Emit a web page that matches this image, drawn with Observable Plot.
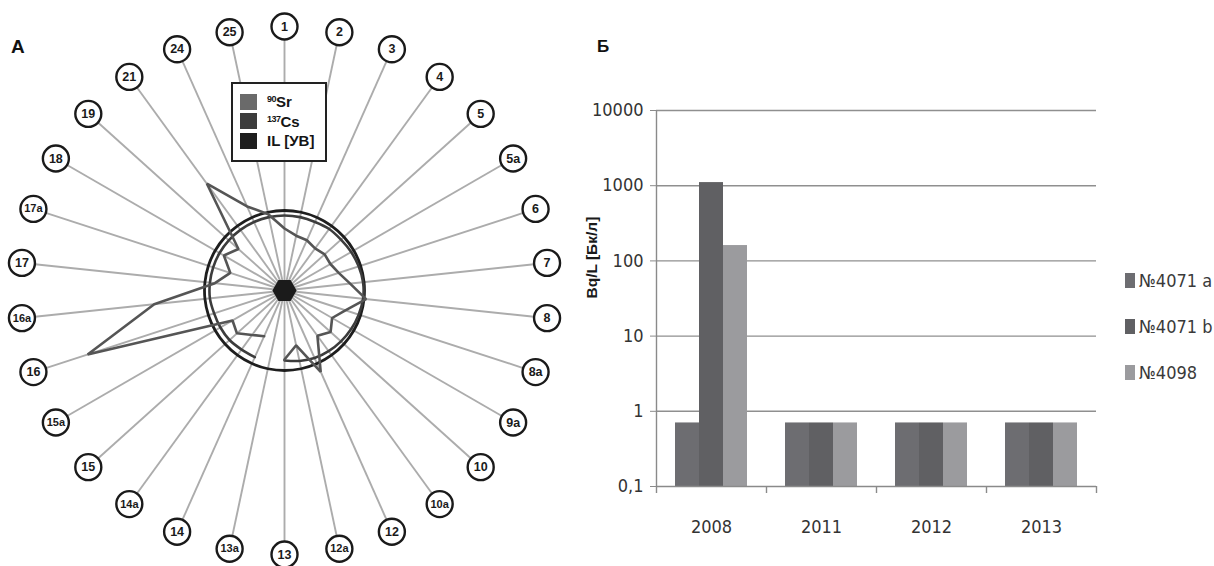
<!DOCTYPE html>
<html>
<head>
<meta charset="utf-8">
<script src="https://cdn.jsdelivr.net/npm/d3@7"></script>
<script src="https://cdn.jsdelivr.net/npm/@observablehq/plot@0.6"></script>
<style>
  body { margin: 0; background: #fff; }
  #wrap { position: relative; width: 1214px; height: 566px; overflow: hidden; background: #fff; }
  #radar { position: absolute; left: 0; top: 0; }
  #bars { position: absolute; left: 570px; top: 0; }
  .tag { position: absolute; font-family: "Liberation Sans", Arial, sans-serif; font-weight: bold; color: #111; line-height: 1; }
  #legendA {
    position: absolute; left: 231px; top: 82px; width: 92px; height: 76px;
    border: 2px solid #222; background: #fff;
    font-family: "Liberation Sans", Arial, sans-serif; font-weight: bold; font-size: 15px; color: #151515;
  }
  #legendA .row { position: absolute; left: 7px; height: 17px; display: flex; align-items: center; }
  #legendA .sw { width: 17px; height: 16px; margin-right: 10px; }
  #legendA sup { font-size: 9px; vertical-align: 5px; letter-spacing: -0.5px; }
  #legendB {
    position: absolute; left: 1125px; top: 270px;
    font-family: "Liberation Sans Narrow", "DejaVu Sans Condensed", sans-serif; font-size: 18px; color: #3a3a3a;
  }
  #legendB .row { position: absolute; left: 0; height: 20px; display: flex; align-items: center; white-space: nowrap; }
  #legendB .sw { width: 10px; height: 15px; margin-right: 4px; }
</style>
</head>
<body>
<div id="wrap">
  <div id="radar"></div>
  <div id="bars"></div>
  <div class="tag" style="left:11px;top:37px;font-size:19px;">A</div>
  <div class="tag" style="left:597px;top:38px;font-size:17px;">Б</div>
  <div id="legendA"></div>
  <div id="legendB"></div>
</div>
<script>
// ---------- Panel A: sampling points around the site ----------
const spokes = ["1","2","3","4","5","5a","6","7","8","8a","9a","10","10a","12","12a",
                "13","13a","14","14a","15","15a","16","16a","17","17a","18","19","21","24","25"];
// radial values (relative units) per sampling point; null = no measurement
const sr90 = [62,56,55,52,54,53,57,66,82,64,55,62,56,89,56,
              69,null,50,55,64,60,207,131,70,57,70,62,132,92,78];
const cs137 = [75,75,75,76,76,77,78,79,79,78,77,76,75,74,72,
               70,null,73,73,74,74,74,75,75,75,75,75,75,75,75];
const interventionLevel = 80;

const seriesA = ["⁹⁰Sr", "¹³⁷Cs", "IL [УВ]"];
const seriesAColors = ["#6a6a6a", "#3c3c3c", "#1e1e1e"];

// ---------- Panel Б: well water activity ----------
const years = ["2008", "2011", "2012", "2013"];
const wells = ["№4071 a", "№4071 b", "№4098"];
const wellColors = ["#6d6d71", "#606063", "#9b9b9e"];
const well4071a = [0.7, 0.7, 0.7, 0.7];
const well4071b = [1100, 0.7, 0.7, 0.7];
const well4098 = [160, 0.7, 0.7, 0.7];
const yTicks = [0.1, 1, 10, 100, 1000, 10000];
const yTickLabels = ["0,1", "1", "10", "100", "1000", "10000"];
const yLabel = "Bq/L [Бк/л]";

// ---------- radar ----------
const LABEL_R = 264, BADGE_R = 13;
const angleOf = i => (2 * Math.PI * i) / spokes.length;
const polar = (i, r) => ({x: r * Math.sin(angleOf(i)), y: r * Math.cos(angleOf(i))});

const spokeRows = spokes.map((name, i) => {
  const p = polar(i, LABEL_R), e = polar(i, LABEL_R - BADGE_R);
  return {name, x: p.x, y: p.y, xe: e.x, ye: e.y};
});

// walk clockwise starting after the missing point so the gap stays open
const startIdx = spokes.indexOf("14");
const walk = d3.range(spokes.length).map(k => (startIdx + k) % spokes.length);
const path = values => walk.filter(i => values[i] != null).map(i => polar(i, values[i]));
const ring = spokes.map((_, i) => polar(i, interventionLevel));

const radar = Plot.plot({
  width: 575, height: 566, margin: 0,
  x: {domain: [-284, 291], axis: null},
  y: {domain: [-276, 290], axis: null},
  style: {background: "transparent"},
  marks: [
    Plot.link(spokeRows, {x1: 0, y1: 0, x2: "xe", y2: "ye", stroke: "#acacac", strokeWidth: 1.9}),
    Plot.line(ring, {x: "x", y: "y", curve: "catmull-rom-closed", stroke: seriesAColors[2], strokeWidth: 2.8}),
    Plot.line(path(cs137), {x: "x", y: "y", curve: "catmull-rom", stroke: seriesAColors[1], strokeWidth: 2.6}),
    Plot.line(path(sr90), {x: "x", y: "y", stroke: "#555", strokeWidth: 2.6, strokeLinejoin: "miter"}),
    Plot.dot([{x: 0, y: 0}], {x: "x", y: "y", symbol: "hexagon", r: 10.5, rotate: 90, fill: "#1b1b1b"}),
    Plot.dot(spokeRows, {x: "x", y: "y", r: BADGE_R, fill: "white", stroke: "#1a1a1a", strokeWidth: 2.4}),
    Plot.text(spokeRows, {
      x: "x", y: "y", text: "name", fill: "#1a1a1a",
      fontWeight: "bold", fontFamily: "Liberation Sans, Arial, sans-serif",
      fontSize: d => d.name.length > 2 ? 11 : 12.5
    })
  ]
});
document.getElementById("radar").append(radar);

// legend for panel A
const legA = document.getElementById("legendA");
seriesA.forEach((name, k) => {
  const row = document.createElement("div");
  row.className = "row";
  row.style.top = (9 + k * 19.5) + "px";
  const sw = document.createElement("div");
  sw.className = "sw";
  sw.style.background = seriesAColors[k];
  const label = document.createElement("span");
  const m = name.match(/^([⁰¹²³⁴⁵⁶⁷⁸⁹]+)(.*)$/);
  if (m) {
    const digits = m[1].replace(/[⁰¹²³⁴⁵⁶⁷⁸⁹]/g, c => "⁰¹²³⁴⁵⁶⁷⁸⁹".indexOf(c));
    label.innerHTML = `<sup>${digits}</sup>${m[2]}`;
  } else label.textContent = name;
  row.append(sw, label);
  legA.append(row);
});

// ---------- bars ----------
const wellValues = [well4071a, well4071b, well4098];
const rows = years.flatMap((year, i) => wells.map((well, k) => ({year, well, value: wellValues[k][i]})));
const fontB = "Liberation Sans Narrow, DejaVu Sans Condensed, sans-serif";

const bars = Plot.plot({
  width: 530, height: 566,
  marginLeft: 86, marginRight: 4, marginTop: 110, marginBottom: 80,
  style: {background: "transparent"},
  fx: {domain: years, padding: 0, label: null},
  x: {domain: wells, paddingInner: 0, paddingOuter: 0.79, axis: null},
  y: {type: "log", domain: [0.1, 10000]},
  color: {domain: wells, range: wellColors},
  marks: [
    Plot.ruleY(yTicks.slice(1), {stroke: "#8f8f8f", strokeWidth: 1.4}),
    Plot.barY(rows, {fx: "year", x: "well", y1: 0.1, y2: "value", fill: "well"}),
    Plot.ruleY([0.1], {stroke: "#8a8a8a", strokeWidth: 1.6}),
    // left axis line
    Plot.ruleX([wells[0]], {fx: () => years[0], x: d => d, dx: -31, y1: 10000, y2: 0.1, insetBottom: -7, stroke: "#8a8a8a", strokeWidth: 1.4}),
    // category boundary ticks below the baseline
    Plot.ruleX(years.slice(1), {fx: d => d, x: () => wells[0], dx: -31, y1: 0.1, y2: 0.1, insetBottom: -7, stroke: "#8a8a8a", strokeWidth: 1.4}),
    Plot.ruleX([years[years.length - 1]], {fx: d => d, x: () => wells[2], dx: 31, y1: 0.1, y2: 0.1, insetBottom: -7, stroke: "#8a8a8a", strokeWidth: 1.4}),
    Plot.axisY({
      ticks: yTicks, tickFormat: d => yTickLabels[yTicks.indexOf(d)],
      tickSize: 6, tickPadding: 7, fontSize: 18, fontFamily: fontB,
      stroke: "#8a8a8a", fill: "#333", label: null
    }),
    Plot.axisFx({anchor: "bottom", tickSize: 0, tickPadding: 34, fontSize: 18, fontFamily: fontB, fill: "#333", label: null}),
    Plot.text([yLabel], {fx: () => years[0], frameAnchor: "left", rotate: -90, dx: -64,
      fontWeight: "bold", fontSize: 15.5, fontFamily: "Liberation Sans, Arial, sans-serif", fill: "#1a1a1a"})
  ]
});
document.getElementById("bars").append(bars);

// legend for panel Б
const legB = document.getElementById("legendB");
wells.forEach((name, k) => {
  const row = document.createElement("div");
  row.className = "row";
  row.style.top = (k * 46) + "px";
  const sw = document.createElement("div");
  sw.className = "sw";
  sw.style.background = wellColors[k];
  const label = document.createElement("span");
  label.textContent = name;
  row.append(sw, label);
  legB.append(row);
});
</script>
</body>
</html>
